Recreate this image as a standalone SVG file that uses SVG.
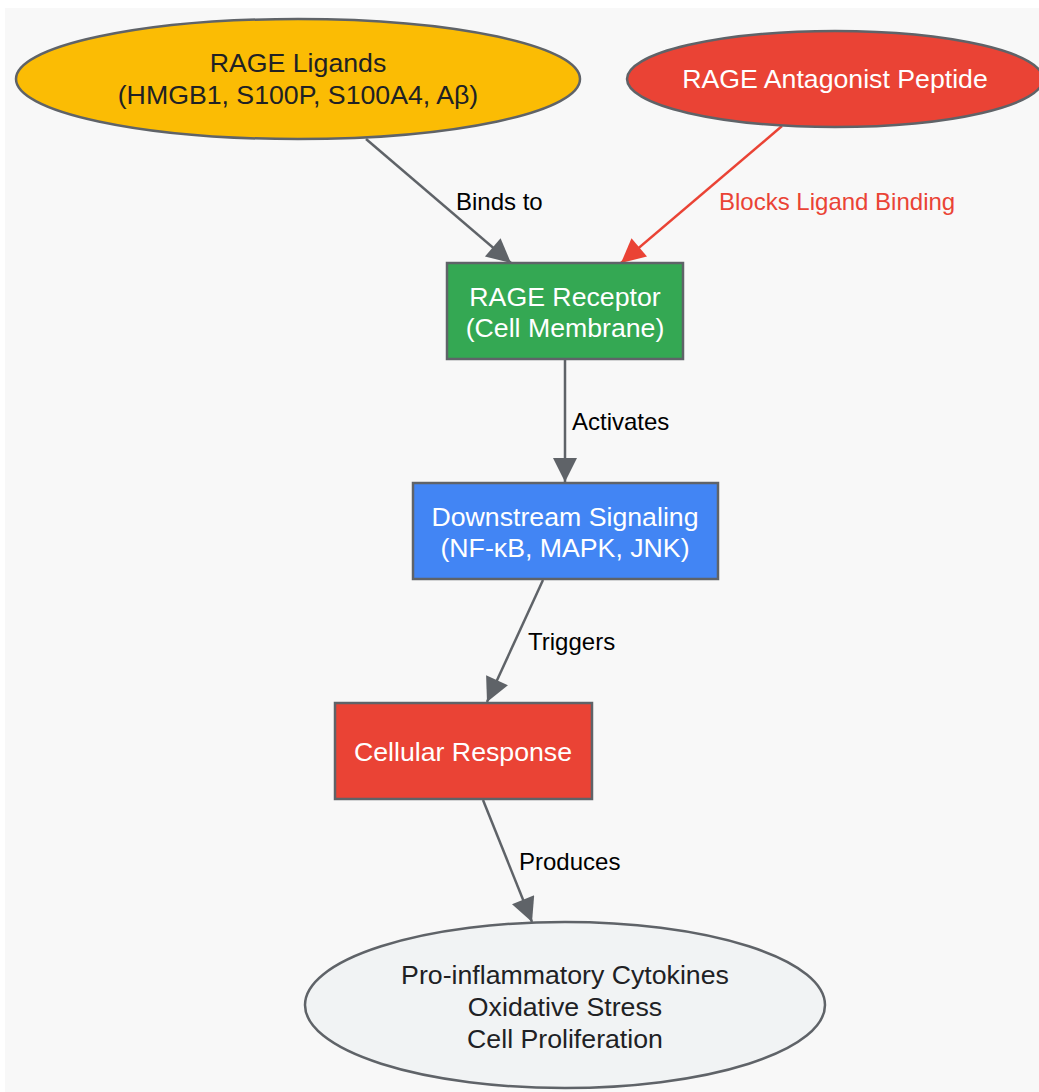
<svg xmlns="http://www.w3.org/2000/svg" width="1039" height="1092" viewBox="0 0 1039 1092">
<style>
.nt{font-family:"Liberation Sans",Arial,sans-serif;font-size:26.7px;text-anchor:middle}
.el{font-family:"Liberation Sans",Arial,sans-serif;font-size:24px;fill:#000}
.shape{stroke:#5f6368;stroke-width:2.5}
.edge{stroke:#5f6368;stroke-width:2.5;fill:none;marker-end:url(#ah)}
.edge-red{stroke:#ea4335;stroke-width:2.5;fill:none;marker-end:url(#ahr)}
</style>
<defs>
<marker id="ah" viewBox="0 0 10 10" refX="10" refY="5" markerUnits="userSpaceOnUse" markerWidth="26" markerHeight="24" orient="auto"><path d="M0,0 L10,5 L0,10 z" fill="#5f6368"/></marker>
<marker id="ahr" viewBox="0 0 10 10" refX="10" refY="5" markerUnits="userSpaceOnUse" markerWidth="26" markerHeight="24" orient="auto"><path d="M0,0 L10,5 L0,10 z" fill="#ea4335"/></marker>
</defs>
<rect x="0" y="0" width="1039" height="1092" fill="#ffffff"/>
<rect x="5" y="8" width="1034" height="1084" fill="#f8f8f8"/>
<g id="connectors">
<line class="edge" x1="366" y1="139" x2="511" y2="263"/>
<text class="el" x="456" y="210">Binds to</text>
<line class="edge-red" x1="782" y1="126" x2="621" y2="263"/>
<text class="el" x="719" y="210" style="fill:#ea4335">Blocks Ligand Binding</text>
<line class="edge" x1="565" y1="359" x2="565" y2="482"/>
<text class="el" x="572" y="430">Activates</text>
<line class="edge" x1="543" y1="580" x2="487" y2="702"/>
<text class="el" x="528" y="650">Triggers</text>
<line class="edge" x1="483" y1="800" x2="532" y2="922"/>
<text class="el" x="519" y="870">Produces</text>
</g>
<g id="ligands">
<ellipse class="shape" cx="298" cy="79" rx="282" ry="60" fill="#fbbc04"/>
<text class="nt" x="298" y="72" fill="#202124">RAGE Ligands</text>
<text class="nt" x="298" y="104" fill="#202124">(HMGB1, S100P, S100A4, Aβ)</text>
</g>
<g id="antagonist">
<ellipse class="shape" cx="835" cy="79" rx="208" ry="48" fill="#ea4335"/>
<text class="nt" x="835" y="88" fill="#ffffff">RAGE Antagonist Peptide</text>
</g>
<g id="receptor">
<rect class="shape" x="447" y="263" width="236" height="96" fill="#34a853"/>
<text class="nt" x="565" y="306" fill="#ffffff">RAGE Receptor</text>
<text class="nt" x="565" y="337" fill="#ffffff">(Cell Membrane)</text>
</g>
<g id="signaling">
<rect class="shape" x="413" y="483" width="305" height="96" fill="#4285f4"/>
<text class="nt" x="565" y="526" fill="#ffffff">Downstream Signaling</text>
<text class="nt" x="565" y="557" fill="#ffffff">(NF-κB, MAPK, JNK)</text>
</g>
<g id="response">
<rect class="shape" x="335" y="703" width="257" height="96" fill="#ea4335"/>
<text class="nt" x="463" y="761" fill="#ffffff">Cellular Response</text>
</g>
<g id="outcomes">
<ellipse class="shape" cx="565" cy="1005" rx="260" ry="83" fill="#f1f3f4"/>
<text class="nt" x="565" y="984" fill="#202124">Pro-inflammatory Cytokines</text>
<text class="nt" x="565" y="1016" fill="#202124">Oxidative Stress</text>
<text class="nt" x="565" y="1048" fill="#202124">Cell Proliferation</text>
</g>
</svg>
